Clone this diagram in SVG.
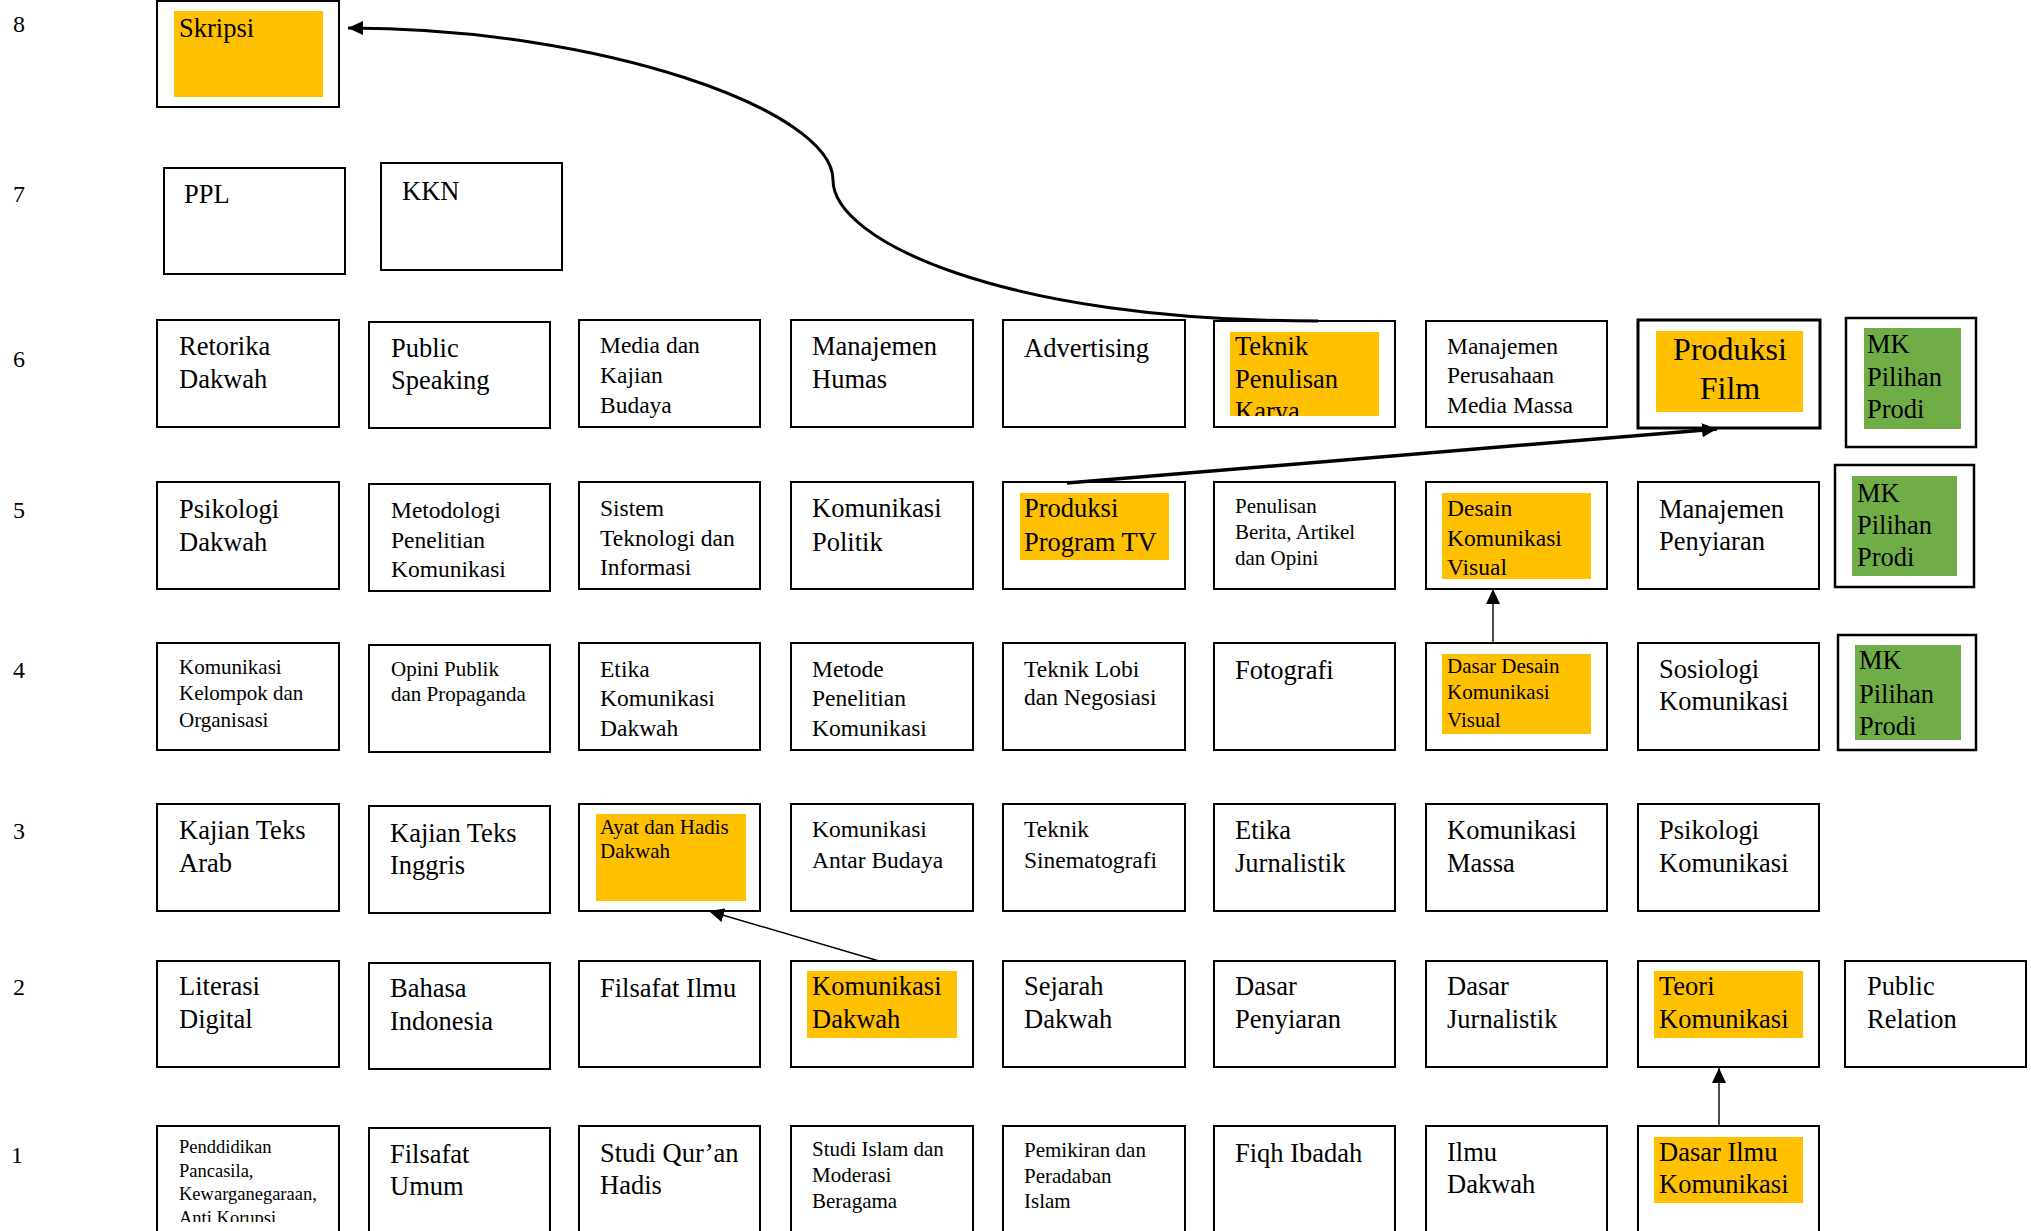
<svg xmlns="http://www.w3.org/2000/svg" width="2031" height="1231" viewBox="0 0 2031 1231">
<style>
.b{fill:#fff;stroke:#000;stroke-width:2}
.bt{fill:#fff;stroke:#000;stroke-width:3}
.bm{fill:#fff;stroke:#000;stroke-width:2.5}
.o{fill:#FFC000}
.g{fill:#70AD47}
text{font-family:"Liberation Serif","Times New Roman",serif;font-size:26.5px;fill:#000}
.m{font-size:23.5px}
.s{font-size:21px}
.xs{font-size:18.5px}
.n{font-size:24px}
.big{font-size:32px}
.c{stroke:#000;fill:none}
</style>
<defs>
<marker id="ah" markerUnits="userSpaceOnUse" markerWidth="16" markerHeight="15" refX="15" refY="7" orient="auto"><path d="M0,0 L15,7 L0,14 z" fill="#000"/></marker>
<clipPath id="clipTPK"><rect x="1230" y="332" width="149" height="84"/></clipPath>
<clipPath id="clipPend"><rect x="157" y="1126" width="182" height="96"/></clipPath>
</defs>
<g id="row-labels">
<text class="n" x="13" y="32">8</text>
<text class="n" x="13" y="202">7</text>
<text class="n" x="13" y="367">6</text>
<text class="n" x="13" y="518">5</text>
<text class="n" x="13" y="678">4</text>
<text class="n" x="13" y="839">3</text>
<text class="n" x="13" y="995">2</text>
<text class="n" x="11" y="1163">1</text>
</g>
<g id="n-skripsi"><rect class="b" x="157" y="1" width="182" height="106"/><rect class="o" x="174" y="11" width="149" height="86"/><text x="179" y="37">Skripsi</text></g>
<g id="n-ppl"><rect class="b" x="164" y="168" width="181" height="106"/><text x="184" y="203">PPL</text></g>
<g id="n-kkn"><rect class="b" x="381" y="163" width="181" height="107"/><text x="402" y="200">KKN</text></g>

<g id="n-retorika"><rect class="b" x="157" y="320" width="182" height="107"/><text x="179" y="355">Retorika</text><text x="179" y="388">Dakwah</text></g>
<g id="n-public-speaking"><rect class="b" x="369" y="322" width="181" height="106"/><text x="391" y="357">Public</text><text x="391" y="389">Speaking</text></g>
<g id="n-media"><rect class="b" x="579" y="320" width="181" height="107"/><text class="m" x="600" y="353">Media dan</text><text class="m" x="600" y="383">Kajian</text><text class="m" x="600" y="413">Budaya</text></g>
<g id="n-humas"><rect class="b" x="791" y="320" width="182" height="107"/><text x="812" y="355">Manajemen</text><text x="812" y="388">Humas</text></g>
<g id="n-advertising"><rect class="b" x="1003" y="320" width="182" height="107"/><text x="1024" y="357">Advertising</text></g>
<g id="n-teknik-penulisan"><rect class="b" x="1214" y="321" width="181" height="106"/><rect class="o" x="1230" y="332" width="149" height="84"/><g clip-path="url(#clipTPK)"><text x="1235" y="355">Teknik</text><text x="1235" y="388">Penulisan</text><text x="1235" y="420">Karya</text></g></g>
<g id="n-mpmm"><rect class="b" x="1426" y="321" width="181" height="106"/><text class="m" x="1447" y="354">Manajemen</text><text class="m" x="1447" y="383">Perusahaan</text><text class="m" x="1447" y="413">Media Massa</text></g>
<g id="n-produksi-film"><rect class="bt" x="1638" y="320" width="182" height="108"/><rect class="o" x="1656" y="331" width="147" height="81"/><text class="big" x="1730" y="360" text-anchor="middle">Produksi</text><text class="big" x="1730" y="399" text-anchor="middle">Film</text></g>
<g id="n-mk6"><rect class="bm" x="1846" y="318" width="130" height="129"/><rect class="g" x="1864" y="328" width="97" height="101"/><text x="1867" y="353">MK</text><text x="1867" y="386">Pilihan</text><text x="1867" y="418">Prodi</text></g>

<g id="n-psikologi-dakwah"><rect class="b" x="157" y="482" width="182" height="107"/><text x="179" y="518">Psikologi</text><text x="179" y="551">Dakwah</text></g>
<g id="n-metodologi"><rect class="b" x="369" y="484" width="181" height="107"/><text class="m" x="391" y="518">Metodologi</text><text class="m" x="391" y="548">Penelitian</text><text class="m" x="391" y="577">Komunikasi</text></g>
<g id="n-sistem"><rect class="b" x="579" y="482" width="181" height="107"/><text class="m" x="600" y="516">Sistem</text><text class="m" x="600" y="546">Teknologi dan</text><text class="m" x="600" y="575">Informasi</text></g>
<g id="n-kom-politik"><rect class="b" x="791" y="482" width="182" height="107"/><text x="812" y="517">Komunikasi</text><text x="812" y="551">Politik</text></g>
<g id="n-produksi-tv"><rect class="b" x="1003" y="482" width="182" height="107"/><rect class="o" x="1020" y="493" width="149" height="67"/><text x="1024" y="517">Produksi</text><text x="1024" y="551">Program TV</text></g>
<g id="n-penulisan-berita"><rect class="b" x="1214" y="482" width="181" height="107"/><text class="s" x="1235" y="513">Penulisan</text><text class="s" x="1235" y="539">Berita, Artikel</text><text class="s" x="1235" y="565">dan Opini</text></g>
<g id="n-dkv"><rect class="b" x="1426" y="482" width="181" height="107"/><rect class="o" x="1442" y="493" width="149" height="86"/><text class="m" x="1447" y="516">Desain</text><text class="m" x="1447" y="546">Komunikasi</text><text class="m" x="1447" y="575">Visual</text></g>
<g id="n-manajemen-penyiaran"><rect class="b" x="1638" y="482" width="181" height="107"/><text x="1659" y="518">Manajemen</text><text x="1659" y="550">Penyiaran</text></g>
<g id="n-mk5"><rect class="bm" x="1835" y="465" width="139" height="122"/><rect class="g" x="1852" y="476" width="105" height="100"/><text x="1857" y="502">MK</text><text x="1857" y="534">Pilihan</text><text x="1857" y="566">Prodi</text></g>

<g id="n-kom-kelompok"><rect class="b" x="157" y="643" width="182" height="107"/><text class="s" x="179" y="674">Komunikasi</text><text class="s" x="179" y="700">Kelompok dan</text><text class="s" x="179" y="727">Organisasi</text></g>
<g id="n-opini"><rect class="b" x="369" y="645" width="181" height="107"/><text class="s" x="391" y="676">Opini Publik</text><text class="s" x="391" y="701">dan Propaganda</text></g>
<g id="n-etika-kom-dakwah"><rect class="b" x="579" y="643" width="181" height="107"/><text class="m" x="600" y="677">Etika</text><text class="m" x="600" y="706">Komunikasi</text><text class="m" x="600" y="736">Dakwah</text></g>
<g id="n-metode"><rect class="b" x="791" y="643" width="182" height="107"/><text class="m" x="812" y="677">Metode</text><text class="m" x="812" y="706">Penelitian</text><text class="m" x="812" y="736">Komunikasi</text></g>
<g id="n-lobi"><rect class="b" x="1003" y="643" width="182" height="107"/><text class="m" x="1024" y="677">Teknik Lobi</text><text class="m" x="1024" y="705">dan Negosiasi</text></g>
<g id="n-fotografi"><rect class="b" x="1214" y="643" width="181" height="107"/><text x="1235" y="679">Fotografi</text></g>
<g id="n-ddkv"><rect class="b" x="1426" y="643" width="181" height="107"/><rect class="o" x="1442" y="654" width="149" height="80"/><text class="s" x="1447" y="673">Dasar Desain</text><text class="s" x="1447" y="699">Komunikasi</text><text class="s" x="1447" y="727">Visual</text></g>
<g id="n-sosiologi"><rect class="b" x="1638" y="643" width="181" height="107"/><text x="1659" y="678">Sosiologi</text><text x="1659" y="710">Komunikasi</text></g>
<g id="n-mk4"><rect class="bm" x="1838" y="635" width="138" height="115"/><rect class="g" x="1855" y="645" width="106" height="95"/><text x="1859" y="669">MK</text><text x="1859" y="703">Pilihan</text><text x="1859" y="735">Prodi</text></g>

<g id="n-kajian-arab"><rect class="b" x="157" y="804" width="182" height="107"/><text x="179" y="839">Kajian Teks</text><text x="179" y="872">Arab</text></g>
<g id="n-kajian-inggris"><rect class="b" x="369" y="806" width="181" height="107"/><text x="390" y="842">Kajian Teks</text><text x="390" y="874">Inggris</text></g>
<g id="n-ayat"><rect class="b" x="579" y="804" width="181" height="107"/><rect class="o" x="596" y="814" width="150" height="87"/><text class="s" x="600" y="834">Ayat dan Hadis</text><text class="s" x="600" y="858">Dakwah</text></g>
<g id="n-antar-budaya"><rect class="b" x="791" y="804" width="182" height="107"/><text class="m" x="812" y="837">Komunikasi</text><text class="m" x="812" y="868">Antar Budaya</text></g>
<g id="n-sinematografi"><rect class="b" x="1003" y="804" width="182" height="107"/><text class="m" x="1024" y="837">Teknik</text><text class="m" x="1024" y="868">Sinematografi</text></g>
<g id="n-etika-jurnalistik"><rect class="b" x="1214" y="804" width="181" height="107"/><text x="1235" y="839">Etika</text><text x="1235" y="872">Jurnalistik</text></g>
<g id="n-kom-massa"><rect class="b" x="1426" y="804" width="181" height="107"/><text x="1447" y="839">Komunikasi</text><text x="1447" y="872">Massa</text></g>
<g id="n-psikologi-kom"><rect class="b" x="1638" y="804" width="181" height="107"/><text x="1659" y="839">Psikologi</text><text x="1659" y="872">Komunikasi</text></g>

<g id="n-literasi"><rect class="b" x="157" y="961" width="182" height="106"/><text x="179" y="995">Literasi</text><text x="179" y="1028">Digital</text></g>
<g id="n-bahasa"><rect class="b" x="369" y="963" width="181" height="106"/><text x="390" y="997">Bahasa</text><text x="390" y="1030">Indonesia</text></g>
<g id="n-filsafat-ilmu"><rect class="b" x="579" y="961" width="181" height="106"/><text x="600" y="997">Filsafat Ilmu</text></g>
<g id="n-kom-dakwah"><rect class="b" x="791" y="961" width="182" height="106"/><rect class="o" x="807" y="971" width="150" height="67"/><text x="812" y="995">Komunikasi</text><text x="812" y="1028">Dakwah</text></g>
<g id="n-sejarah"><rect class="b" x="1003" y="961" width="182" height="106"/><text x="1024" y="995">Sejarah</text><text x="1024" y="1028">Dakwah</text></g>
<g id="n-dasar-penyiaran"><rect class="b" x="1214" y="961" width="181" height="106"/><text x="1235" y="995">Dasar</text><text x="1235" y="1028">Penyiaran</text></g>
<g id="n-dasar-jurnalistik"><rect class="b" x="1426" y="961" width="181" height="106"/><text x="1447" y="995">Dasar</text><text x="1447" y="1028">Jurnalistik</text></g>
<g id="n-teori-kom"><rect class="b" x="1638" y="961" width="181" height="106"/><rect class="o" x="1654" y="971" width="149" height="67"/><text x="1659" y="995">Teori</text><text x="1659" y="1028">Komunikasi</text></g>
<g id="n-public-relation"><rect class="b" x="1845" y="961" width="181" height="106"/><text x="1867" y="995">Public</text><text x="1867" y="1028">Relation</text></g>

<g id="n-pancasila"><rect class="b" x="157" y="1126" width="182" height="120"/><g clip-path="url(#clipPend)"><text class="xs" x="179" y="1153">Penddidikan</text><text class="xs" x="179" y="1177">Pancasila,</text><text class="xs" x="179" y="1200">Kewarganegaraan,</text><text class="xs" x="179" y="1224">Anti Korupsi</text></g></g>
<g id="n-filsafat-umum"><rect class="b" x="369" y="1128" width="181" height="120"/><text x="390" y="1163">Filsafat</text><text x="390" y="1195">Umum</text></g>
<g id="n-studi-quran"><rect class="b" x="579" y="1126" width="181" height="120"/><text x="600" y="1162">Studi Qur’an</text><text x="600" y="1194">Hadis</text></g>
<g id="n-studi-islam"><rect class="b" x="791" y="1126" width="182" height="120"/><text class="s" x="812" y="1156">Studi Islam dan</text><text class="s" x="812" y="1182">Moderasi</text><text class="s" x="812" y="1208">Beragama</text></g>
<g id="n-pemikiran"><rect class="b" x="1003" y="1126" width="182" height="120"/><text class="s" x="1024" y="1157">Pemikiran dan</text><text class="s" x="1024" y="1183">Peradaban</text><text class="s" x="1024" y="1208">Islam</text></g>
<g id="n-fiqh"><rect class="b" x="1214" y="1126" width="181" height="120"/><text x="1235" y="1162">Fiqh Ibadah</text></g>
<g id="n-ilmu-dakwah"><rect class="b" x="1426" y="1126" width="181" height="120"/><text x="1447" y="1161">Ilmu</text><text x="1447" y="1193">Dakwah</text></g>
<g id="n-dik"><rect class="b" x="1638" y="1126" width="181" height="120"/><rect class="o" x="1654" y="1137" width="149" height="66"/><text x="1659" y="1161">Dasar Ilmu</text><text x="1659" y="1193">Komunikasi</text></g>

<g id="connectors">
<path class="c" stroke-width="3" d="M1318,321 C1000,321 833,240 833,180 C833,110 600,28 348,28" marker-end="url(#ah)"/>
<path class="c" stroke-width="3.5" d="M1067,483 L1717,429" marker-end="url(#ah)"/>
<path class="c" stroke-width="1.4" d="M879,961 L709,911" marker-end="url(#ah)"/>
<path class="c" stroke-width="1.4" d="M1493,643 L1493,589" marker-end="url(#ah)"/>
<path class="c" stroke-width="1.4" d="M1719,1126 L1719,1068" marker-end="url(#ah)"/>
</g>
</svg>
